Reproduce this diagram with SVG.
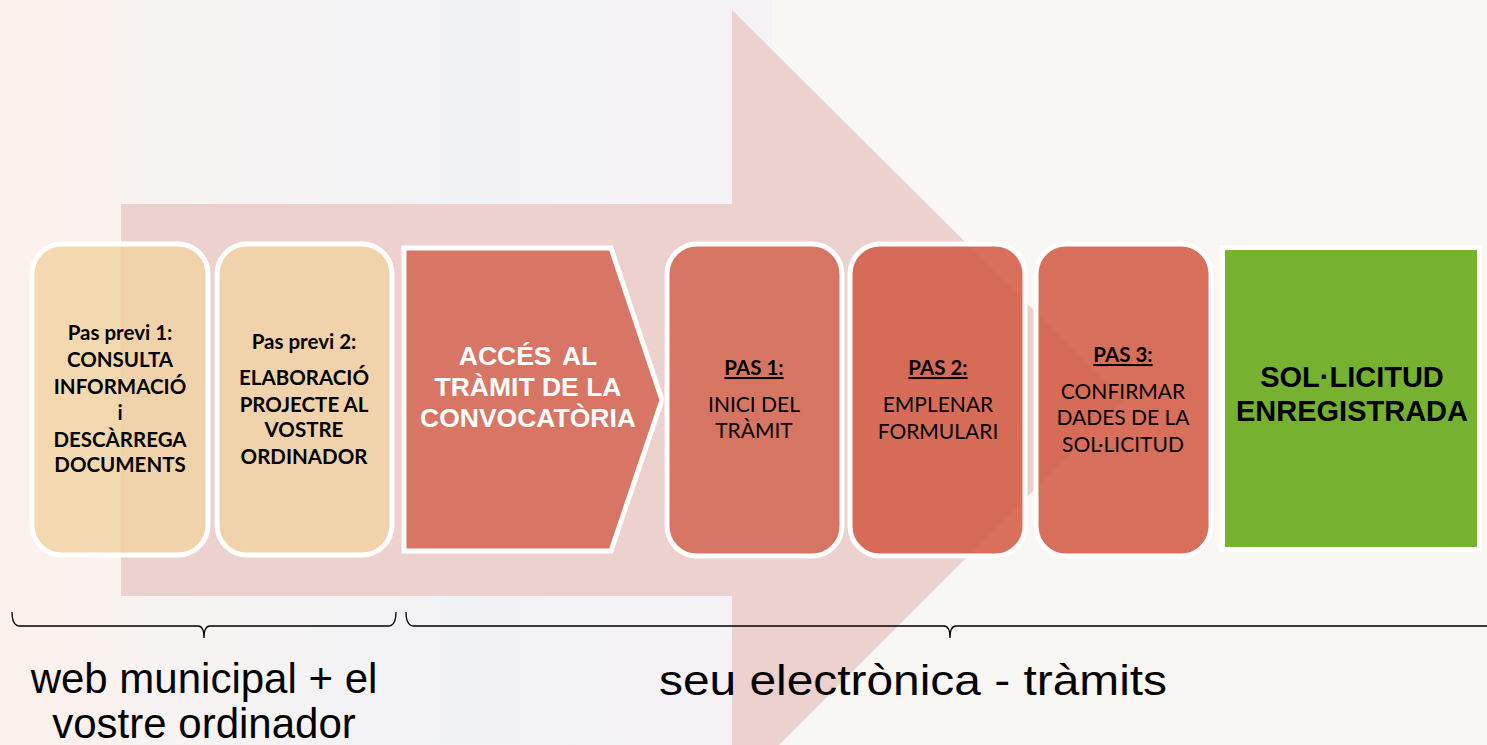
<svg xmlns="http://www.w3.org/2000/svg" width="1487" height="745" viewBox="0 0 1487 745">
<defs>
<style>
.bg{fill:#f9f7f4}
.arrow{fill:#ecd1cf}
.tan{fill:#f1d3a2;fill-opacity:0.82;stroke:#ffffff;stroke-width:5}
.red{fill:#d4634d;fill-opacity:0.92;stroke:#ffffff;stroke-width:5}
.t1{font-family:Lato,"Open Sans",sans-serif;font-weight:bold;font-size:20.5px;fill:#000;text-anchor:middle}
.t2{font-family:Lato,"Open Sans",sans-serif;font-size:21px;fill:#000;text-anchor:middle}
.tu{font-family:Lato,"Open Sans",sans-serif;font-weight:bold;font-size:20.5px;fill:#000;text-anchor:middle;text-decoration:underline}
.tw{font-family:"Liberation Sans",Arial,sans-serif;font-weight:bold;font-size:26.5px;fill:#fff;text-anchor:middle}
.tg{font-family:"Liberation Sans",Arial,sans-serif;font-weight:bold;font-size:29px;fill:#000;text-anchor:middle}
.tb{font-family:"Liberation Sans",Arial,sans-serif;font-size:42px;fill:#000;text-anchor:middle}
.brace{fill:none;stroke:#000;stroke-width:1.3}
</style>
<linearGradient id="photo" x1="0" y1="0" x2="1" y2="0">
<stop offset="0" stop-color="#fcefeb"/>
<stop offset="0.2" stop-color="#f7f2f2"/>
<stop offset="0.6" stop-color="#eef0f6"/>
<stop offset="1" stop-color="#f5f0f8"/>
</linearGradient>
</defs>
<rect class="bg" x="0" y="0" width="1487" height="745"/>
<rect x="0" y="0" width="772" height="745" fill="url(#photo)" opacity="0.7"/>
<rect x="0" y="0" width="120" height="745" fill="#fcefeb" opacity="0.4"/>
<g id="big-arrow">
<polygon class="arrow" points="121,204 732,204 732,10 1124,400 732,792 732,596 121,596"/>
</g>
<g id="node-pas-previ-1">
<rect class="tan" x="32" y="244" width="176" height="311" rx="30"/>
<text class="t1" x="120" y="340">Pas previ 1:</text>
<text class="t1" x="120" y="367">CONSULTA</text>
<text class="t1" x="120" y="394">INFORMACIÓ</text>
<text class="t1" x="120" y="420">i</text>
<text class="t1" x="120" y="447">DESCÀRREGA</text>
<text class="t1" x="120" y="472">DOCUMENTS</text>
</g>
<g id="node-pas-previ-2">
<rect class="tan" x="217" y="244" width="175" height="311" rx="30"/>
<text class="t1" x="304" y="349">Pas previ 2:</text>
<text class="t1" x="304" y="385">ELABORACIÓ</text>
<text class="t1" x="304" y="412">PROJECTE AL</text>
<text class="t1" x="304" y="437">VOSTRE</text>
<text class="t1" x="304" y="464">ORDINADOR</text>
</g>
<g id="node-acces">
<polygon points="404,248 611,248 662,400 611,551 404,551" fill="#d87565" stroke="#ffffff" stroke-width="5"/>
<text class="tw" x="528" y="365" style="word-spacing:4px">ACCÉS AL</text>
<text class="tw" x="528" y="396">TRÀMIT DE LA</text>
<text class="tw" x="528" y="427">CONVOCATÒRIA</text>
</g>
<g id="node-pas-1">
<rect class="red" x="667" y="244" width="175" height="312" rx="30" style="fill:#d56c5a"/>
<text class="tu" x="754" y="375">PAS 1:</text>
<text class="t2" x="754" y="412">INICI DEL</text>
<text class="t2" x="754" y="438">TRÀMIT</text>
</g>
<g id="node-pas-2">
<rect class="red" x="850" y="244" width="175" height="312" rx="30"/>
<text class="tu" x="938" y="375">PAS 2:</text>
<text class="t2" x="938" y="412">EMPLENAR</text>
<text class="t2" x="938" y="439">FORMULARI</text>
</g>
<g id="node-pas-3">
<rect class="red" x="1036" y="244" width="175" height="312" rx="30"/>
<text class="tu" x="1123" y="362">PAS 3:</text>
<text class="t2" x="1123" y="399">CONFIRMAR</text>
<text class="t2" x="1123" y="425">DADES DE LA</text>
<text class="t2" x="1123" y="452">SOL·LICITUD</text>
</g>
<g id="node-sollicitud">
<rect x="1222.5" y="247.5" width="257" height="302" fill="#76b130" stroke="#ffffff" stroke-width="5"/>
<text class="tg" x="1352" y="387">SOL·LICITUD</text>
<text class="tg" x="1352" y="421">ENREGISTRADA</text>
</g>
<g id="connectors">
<path class="brace" d="M12,612 Q12,626 20,626 L198,626 Q204,626 204,638 Q204,626 210,626 L388,626 Q396,626 396,612"/>
<path class="brace" d="M406,612 Q406,626 414,626 L944,626 Q950,626 950,638 Q950,626 956,626 L1490,626"/>
</g>
<g id="labels">
<text class="tb" x="204" y="693">web municipal + el</text>
<text class="tb" x="204" y="738">vostre ordinador</text>
<text class="tb" x="913" y="695" textLength="508" lengthAdjust="spacingAndGlyphs">seu electrònica - tràmits</text>
</g>
</svg>
